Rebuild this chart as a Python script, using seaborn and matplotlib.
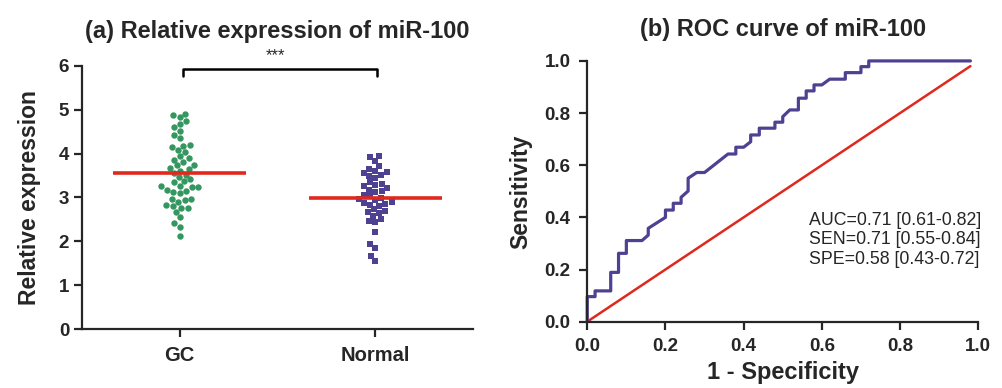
import pandas as pd
import matplotlib
matplotlib.use("Agg")
import matplotlib.pyplot as plt
import seaborn as sns

# ---- data ----
groups = ["GC", "Normal"]

gc_values = [4.88, 4.82, 4.90, 4.74, 4.61, 4.67, 4.52, 4.42, 4.35, 4.20,
             4.14, 4.17, 4.08, 4.03, 3.94, 3.89, 3.85, 3.81, 3.73, 3.73,
             3.68, 3.64, 3.56, 3.60, 3.51, 3.46, 3.41, 3.35, 3.37, 3.27,
             3.26, 3.23, 3.23, 3.18, 3.15, 3.11, 3.13, 2.96, 2.97, 2.94,
             2.89, 2.84, 2.81, 2.77, 2.76, 2.68, 2.56, 2.42, 2.33, 2.12]

normal_values = [3.95, 3.83, 3.92, 3.72, 3.65, 3.58, 3.51, 3.45, 3.50, 3.56,
                 3.61, 3.31, 3.25, 3.22, 3.29, 3.36, 3.17, 3.12, 3.03, 3.05,
                 3.15, 2.96, 2.89, 2.86, 2.84, 2.88, 2.94, 2.98, 2.80, 2.70,
                 2.64, 2.67, 2.73, 2.58, 2.47, 2.45, 2.51, 2.21, 1.95, 1.86,
                 1.67, 1.56]

group_means = [3.56, 2.98]

# ROC curve vertices (1 - specificity, sensitivity)
fpr = [0.0, 0.0, 0.02, 0.02, 0.06, 0.06, 0.08, 0.08, 0.10, 0.10, 0.14, 0.156,
       0.156, 0.20, 0.20, 0.22, 0.22, 0.24, 0.24, 0.258, 0.258, 0.28, 0.30,
       0.36, 0.38, 0.38, 0.40, 0.418, 0.418, 0.44, 0.44, 0.48, 0.48, 0.50,
       0.50, 0.518, 0.54, 0.54, 0.56, 0.56, 0.58, 0.58, 0.60, 0.62, 0.66,
       0.66, 0.70, 0.70, 0.72, 0.72, 0.98]
tpr = [0.0, 0.096, 0.096, 0.118, 0.118, 0.189, 0.189, 0.262, 0.262, 0.311,
       0.311, 0.332, 0.358, 0.40, 0.428, 0.428, 0.454, 0.454, 0.477, 0.501,
       0.55, 0.572, 0.572, 0.643, 0.643, 0.669, 0.669, 0.69, 0.716, 0.716,
       0.742, 0.742, 0.765, 0.765, 0.786, 0.812, 0.812, 0.857, 0.857, 0.885,
       0.885, 0.908, 0.908, 0.93, 0.93, 0.955, 0.955, 0.978, 0.978, 1.0, 1.0]

ref_line = [0.0, 0.98]

stats_lines = ["AUC=0.71 [0.61-0.82]",
               "SEN=0.71 [0.55-0.84]",
               "SPE=0.58 [0.43-0.72]"]

# ---- style ----
sns.set_style("ticks")
plt.rcParams["font.family"] = ["Liberation Sans", "DejaVu Sans"]
plt.rcParams["axes.linewidth"] = 1.6
plt.rcParams["xtick.major.width"] = 1.6
plt.rcParams["ytick.major.width"] = 1.6
plt.rcParams["xtick.major.size"] = 6
plt.rcParams["ytick.major.size"] = 6

green = "#33975f"
purple = "#4e4192"
red = "#e1281d"

df = pd.DataFrame({
    "group": ["GC"] * len(gc_values) + ["Normal"] * len(normal_values),
    "value": gc_values + normal_values,
})

fig = plt.figure(figsize=(10.03, 3.88), dpi=100)
ax1 = fig.add_axes([0.0814, 0.151, 0.3904, 0.680])
ax2 = fig.add_axes([0.5855, 0.171, 0.3898, 0.672])

# (a) scatter of relative expression
sns.swarmplot(data=df[df["group"] == "GC"], x="group", y="value", order=groups,
              color=green, marker="o", size=4.6, linewidth=0, ax=ax1)
sns.swarmplot(data=df[df["group"] == "Normal"], x="group", y="value", order=groups,
              color=purple, marker="s", size=4.4, linewidth=0, ax=ax1)

for i, m in enumerate(group_means):
    ax1.hlines(m, i - 0.34, i + 0.34, color=red, lw=2.6, zorder=5)

ax1.set_xlim(-0.5, 1.5)
ax1.set_ylim(0, 6)
ax1.set_yticks(range(0, 7))
ax1.set_xlabel("")
ax1.set_ylabel("Relative expression", fontsize=16.5, fontweight="bold", labelpad=13)
ax1.set_title("(a) Relative expression of miR-100", fontsize=17, fontweight="bold", pad=20)
ax1.tick_params(axis="x", labelsize=14.5, pad=6)
ax1.tick_params(axis="y", labelsize=13.5, pad=3)
for lab in ax1.get_xticklabels() + ax1.get_yticklabels():
    lab.set_fontweight("bold")
sns.despine(ax=ax1)

# significance bracket
ax1.plot([0.02, 0.02, 1.01, 1.01], [5.76, 5.93, 5.93, 5.76], color="black",
         lw=1.8, clip_on=False)
ax1.text(0.49, 6.06, "***", ha="center", va="bottom", fontsize=12, clip_on=False)

# (b) ROC curve
sns.lineplot(x=fpr, y=tpr, sort=False, estimator=None, color=purple, lw=2.3,
             ax=ax2, clip_on=False)
sns.lineplot(x=ref_line, y=ref_line, sort=False, estimator=None, color=red, lw=1.8,
             ax=ax2, zorder=1)

ax2.set_xlim(0, 1)
ax2.set_ylim(0, 1)
ax2.set_xticks([0.0, 0.2, 0.4, 0.6, 0.8, 1.0])
ax2.set_yticks([0.0, 0.2, 0.4, 0.6, 0.8, 1.0])
ax2.set_xticklabels([f"{t:.1f}" for t in ax2.get_xticks()])
ax2.set_yticklabels([f"{t:.1f}" for t in ax2.get_yticks()])
ax2.tick_params(axis="both", labelsize=13.5, pad=6)
for lab in ax2.get_xticklabels() + ax2.get_yticklabels():
    lab.set_fontweight("bold")
ax2.set_xlabel("1 - Specificity", fontsize=17, fontweight="bold", labelpad=4)
ax2.set_ylabel("Sensitivity", fontsize=16.5, fontweight="bold", labelpad=9)
ax2.set_title("(b) ROC curve of miR-100", fontsize=17, fontweight="bold", pad=18)
sns.despine(ax=ax2)

ax2.text(0.568, 0.42, "\n".join(stats_lines), ha="left", va="top",
         fontsize=12.8, linespacing=1.18, transform=ax2.transData)

fig.savefig("out.png", dpi=100)
